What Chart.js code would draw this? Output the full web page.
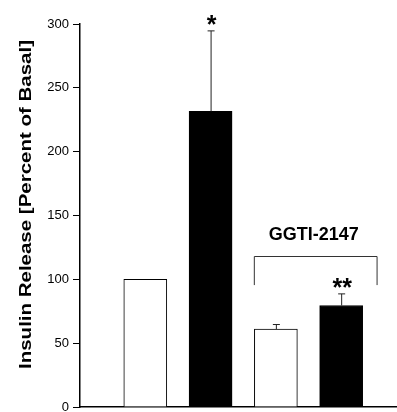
<!DOCTYPE html>
<html><head><meta charset="utf-8">
<script src="https://cdn.jsdelivr.net/npm/chart.js@4/dist/chart.umd.min.js"></script>
<style>html,body{margin:0;padding:0;background:#fff}#wrap{width:397px;height:412px}</style>
</head><body><div id="wrap"><canvas id="c" width="397" height="412"></canvas></div>
<script>
// ---- data ----
const categories = ['Basal', 'Stimulated', 'GGTI-2147 Basal', 'GGTI-2147 Stimulated'];
const xPositions = [1, 2, 3, 4];
const meanValues = [100, 231.5, 61, 79.5];
const errorUp = [0, 63.5, 4, 9.5];
const significance = ['', '*', '', '**'];
const barColors = ['#ffffff', '#000000', '#ffffff', '#000000'];
const yTicks = [0, 50, 100, 150, 200, 250, 300];
const yTitle = 'Insulin Release [Percent of Basal]';
const bracketLabel = 'GGTI-2147';
const bracketGroup = [2, 3];

const FONT = "'Liberation Sans', Arial, Helvetica, sans-serif";

const annotate = {
  id: 'annotate',
  afterDatasetsDraw(chart) {
    const ctx = chart.ctx;
    const xs = chart.scales.x, ys = chart.scales.y;
    ctx.save();
    // error bars + significance stars
    xPositions.forEach((xv, i) => {
      const x = xs.getPixelForValue(xv);
      const yBar = ys.getPixelForValue(meanValues[i]);
      const yTop = ys.getPixelForValue(meanValues[i] + errorUp[i]);
      if (errorUp[i] > 0) {
        ctx.strokeStyle = '#222';
        ctx.lineWidth = 1;
        ctx.beginPath();
        ctx.moveTo(x + 0.5, yBar);
        ctx.lineTo(x + 0.5, yTop + 0.5);
        ctx.moveTo(x - 3, yTop + 0.5);
        ctx.lineTo(x + 4, yTop + 0.5);
        ctx.stroke();
      }
      if (significance[i]) {
        ctx.fillStyle = '#000';
        ctx.font = 'bold 25px ' + FONT;
        ctx.textAlign = 'center';
        ctx.textBaseline = 'alphabetic';
        ctx.fillText(significance[i], x + 1, yTop + 3);
      }
    });
    // bracket over GGTI group
    const x0 = xs.getPixelForValue(xPositions[bracketGroup[0]] - 0.33);
    const x1 = xs.getPixelForValue(xPositions[bracketGroup[1]] + 0.55);
    const yb = Math.round(ys.getPixelForValue(118.5)) + 0.5;
    const yl = ys.getPixelForValue(95.5);
    ctx.strokeStyle = '#333';
    ctx.lineWidth = 1;
    ctx.beginPath();
    ctx.moveTo(x0, yl); ctx.lineTo(x0, yb); ctx.lineTo(x1, yb); ctx.lineTo(x1, yl);
    ctx.stroke();
    ctx.fillStyle = '#000';
    ctx.font = 'bold 18px ' + FONT;
    ctx.textAlign = 'center';
    ctx.textBaseline = 'alphabetic';
    ctx.fillText(bracketLabel, xs.getPixelForValue(3.58), ys.getPixelForValue(130.8));
    // y-axis title
    ctx.translate(30.5, 204.5);
    ctx.rotate(-Math.PI / 2);
    ctx.scale(1.28, 1);
    ctx.font = 'bold 16px ' + FONT;
    ctx.fillText(yTitle, 0, 0);
    ctx.restore();
  }
};

new Chart(document.getElementById('c'), {
  type: 'bar',
  data: {
    labels: categories,
    datasets: [{
      data: xPositions.map((x, i) => ({ x: x, y: meanValues[i] })),
      backgroundColor: barColors,
      borderColor: '#000',
      borderWidth: 1,
      barThickness: 43
    }]
  },
  options: {
    responsive: false,
    devicePixelRatio: 1,
    animation: false,
    layout: { padding: { top: 24, right: 1, bottom: 5, left: 0 } },
    plugins: { legend: { display: false }, tooltip: { enabled: false } },
    scales: {
      x: {
        type: 'linear', min: 0, max: 4.84, offset: false,
        grid: { display: false },
        ticks: { display: false },
        border: { display: true, color: '#000', width: 1.5 },
        afterFit(s) { s.height = 0; s.paddingLeft = 0; s.paddingRight = 0; }
      },
      y: {
        min: 0, max: 300,
        afterBuildTicks(s) { s.ticks = yTicks.map(v => ({ value: v })); },
        ticks: { color: '#000', font: { family: FONT, size: 13 }, padding: 4 },
        grid: { display: true, drawOnChartArea: false, drawTicks: true, tickLength: 7, color: '#000', lineWidth: 1 },
        border: { display: true, color: '#000', width: 1.5 },
        afterFit(s) { s.width = 80; s.paddingTop = 0; s.paddingBottom = 0; }
      }
    }
  },
  plugins: [annotate]
});
</script>
</body></html>
